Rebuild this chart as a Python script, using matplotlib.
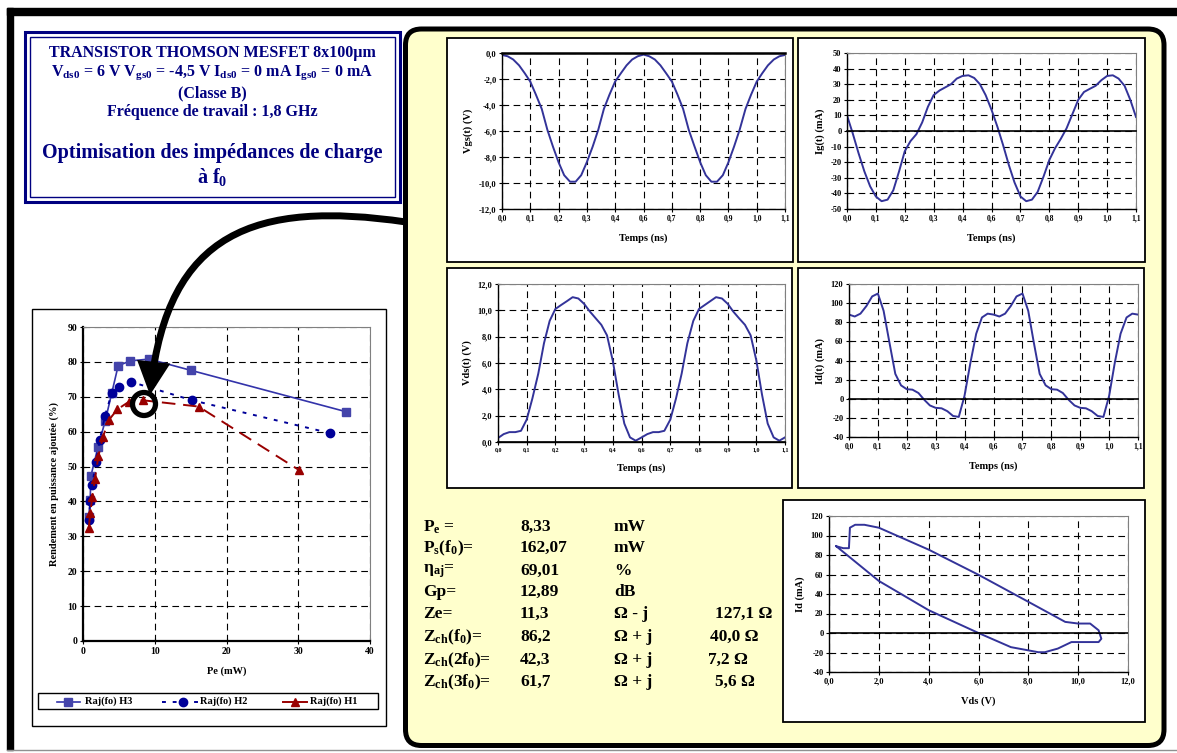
import numpy as np
import matplotlib.pyplot as plt
from matplotlib.patches import Rectangle, FancyBboxPatch, Circle, FancyArrowPatch
from matplotlib.path import Path

W, H = 1177, 753

plt.rcParams['font.family'] = ['Liberation Serif', 'DejaVu Serif']
plt.rcParams['font.weight'] = 'bold'
plt.rcParams['axes.labelweight'] = 'bold'
plt.rcParams['mathtext.fontset'] = 'custom'
plt.rcParams['mathtext.rm'] = 'Liberation Serif:bold'
plt.rcParams['mathtext.it'] = 'Liberation Serif:bold'
plt.rcParams['mathtext.bf'] = 'Liberation Serif:bold'

NAVY = '#000080'
WAVE = '#333399'

# --- rendement en puissance ajoutee vs Pe ---
pe_h3 = [0.8, 1.0, 1.1, 2.1, 3.1, 4.0, 4.9, 6.6, 9.2, 15.0, 36.7]
raj_h3 = [35.5, 40.5, 47.3, 55.7, 63.1, 71.0, 78.9, 80.3, 80.8, 77.6, 65.7]
pe_h2 = [0.84, 1.02, 1.30, 1.77, 2.33, 3.07, 4.0, 5.02, 6.65, 15.2, 34.4]
raj_h2 = [34.7, 40.1, 44.6, 51.2, 57.5, 64.6, 71.0, 72.7, 74.3, 69.0, 59.6]
pe_h1 = [0.79, 1.02, 1.30, 1.67, 2.14, 2.79, 3.63, 4.79, 6.42, 8.33, 16.1, 30.1]
raj_h1 = [32.3, 36.6, 41.4, 46.5, 52.9, 58.6, 63.4, 66.4, 68.6, 69.0, 67.2, 49.0]
series_names = ['Raj(fo) H3', 'Raj(fo) H2', 'Raj(fo) H1']
pe_labels = ['0', '10', '20', '30', '40']
raj_labels = ['0', '10', '20', '30', '40', '50', '60', '70', '80', '90']

# --- formes d'onde temporelles (ns) ---
t_ns = [0.000, 0.022, 0.044, 0.067, 0.089, 0.111, 0.133, 0.156, 0.178, 0.200,
        0.222, 0.244, 0.267, 0.289, 0.311, 0.333, 0.356, 0.378, 0.400, 0.422,
        0.444, 0.467, 0.489, 0.511, 0.533, 0.556, 0.578, 0.600, 0.622, 0.644,
        0.667, 0.689, 0.711, 0.733, 0.756, 0.778, 0.800, 0.822, 0.844, 0.867,
        0.889, 0.911, 0.933, 0.956, 0.978, 1.000, 1.022, 1.044, 1.067, 1.089,
        1.111]
vgs = [-0.15, -0.25, -0.5, -0.95, -1.55, -2.2, -3.2, -4.3, -5.9, -7.2,
       -8.4, -9.4, -9.9, -9.9, -9.4, -8.4, -7.2, -5.9, -4.3, -3.2,
       -2.2, -1.55, -0.95, -0.5, -0.25, -0.12, -0.25, -0.5, -0.95, -1.55,
       -2.2, -3.2, -4.3, -5.9, -7.2, -8.4, -9.4, -9.9, -9.9, -9.4,
       -8.4, -7.2, -5.9, -4.3, -3.2, -2.2, -1.55, -0.95, -0.5, -0.25,
       -0.15]
ig = [10, -1.5, -14, -26, -35.5, -42, -45, -44, -38, -26,
      -13, -6.5, -2, 5.5, 15.5, 23, 26, 28, 30, 33.6,
      35.3, 35.7, 34, 30, 23, 13.4, 2.8, -9, -21.7, -33,
      -42, -45, -44, -39, -29, -18.5, -11, -5, 1.7, 11,
      20, 25, 27, 29, 32.6, 35.3, 35.7, 33.6, 29, 20,
      9]
vds = [0.3, 0.6, 0.75, 0.75, 0.85, 1.7, 3.3, 5.2, 7.5, 9.2,
       10.1, 10.4, 10.7, 11.0, 10.9, 10.5, 9.9, 9.4, 8.9, 8.1,
       6.2, 3.6, 1.4, 0.35, 0.1, 0.35, 0.6, 0.75, 0.75, 0.85,
       1.7, 3.3, 5.2, 7.5, 9.2, 10.1, 10.4, 10.7, 11.0, 10.9,
       10.5, 9.9, 9.4, 8.9, 8.1, 6.2, 3.6, 1.4, 0.35, 0.1,
       0.35]
id_t = [88, 86, 89, 97, 107, 110, 92, 58, 26, 14,
        10, 9.5, 6, -1, -7, -9.5, -10, -13, -18, -19,
        3, 38, 68, 85, 89, 88, 86, 89, 97, 107,
        110, 92, 58, 26, 14, 10, 9.5, 6, -1, -7,
        -9.5, -10, -13, -18, -19, 3, 38, 68, 85, 89,
        88]
t_labels = ['0,0', '0,1', '0,2', '0,3', '0,4', '0,6', '0,7', '0,8', '0,9', '1,0', '1,1']
vgs_labels = ['-12,0', '-10,0', '-8,0', '-6,0', '-4,0', '-2,0', '0,0']
ig_labels = ['-50', '-40', '-30', '-20', '-10', '0', '10', '20', '30', '40', '50']
vds_labels = ['0,0', '2,0', '4,0', '6,0', '8,0', '10,0', '12,0']
id_labels = ['-40', '-20', '0', '20', '40', '60', '80', '100', '120']

# --- cycle de charge Id(Vds) ---
vds_loop = [0.29, 0.57, 0.8, 0.84, 1.05, 1.42, 2.0, 4.0, 6.0, 8.0, 9.48, 10.0, 10.48,
            10.82, 10.93, 10.82, 10.27, 9.73, 9.18, 8.66, 8.4, 7.3, 6.0, 4.0, 2.0, 0.29]
id_loop = [89, 87, 87, 108, 111, 111, 108, 85.5, 59.7, 32, 11.4, 9.7, 9.7,
           2.8, -5.9, -9.3, -9.3, -9.3, -16, -19.7, -19.7, -14.5, 0, 23.4, 53.4, 89]

# --- tableau des performances ---
param_labels = [r'P$_{\rm e}$ =', r'P$_{\rm s}$(f$_{\rm 0}$)=', r'η$_{\rm aj}$=', 'Gp=', 'Ze=',
                r'Z$_{\rm ch}$(f$_{\rm 0}$)=', r'Z$_{\rm ch}$(2f$_{\rm 0}$)=', r'Z$_{\rm ch}$(3f$_{\rm 0}$)=']
param_values = ['8,33', '162,07', '69,01', '12,89', '11,3', '86,2', '42,3', '61,7']
param_units = ['mW', 'mW', '%', 'dB', 'Ω - j', 'Ω + j', 'Ω + j', 'Ω + j']
param_imag = ['', '', '', '', '127,1 Ω', '40,0 Ω', '7,2 Ω', '5,6 Ω']

title_lines = ['TRANSISTOR THOMSON MESFET 8x100µm',
               r'V$_{\rm ds0}$ = 6 V V$_{\rm gs0}$ = -4,5 V I$_{\rm ds0}$ = 0 mA I$_{\rm gs0}$ = 0 mA',
               '(Classe B)',
               'Fréquence de travail : 1,8 GHz']
subtitle_lines = ['Optimisation des impédances de charge', r'à f$_{\rm 0}$']

fig = plt.figure(figsize=(W / 100, H / 100), dpi=100)


def px_axes(x0, y0, x1, y1, **kw):
    return fig.add_axes([x0 / W, 1 - y1 / H, (x1 - x0) / W, (y1 - y0) / H], **kw)


def pixel_layer(z):
    a = px_axes(0, 0, W, H, zorder=z)
    a.set_xlim(0, W)
    a.set_ylim(H, 0)
    a.axis('off')
    a.patch.set_alpha(0)
    return a


bg = pixel_layer(0)

# cadre de la page
bg.add_patch(Rectangle((7, 8), W - 7, 7, color='black'))
bg.add_patch(Rectangle((7, 8), 6, 742, color='black'))
bg.plot([7, W], [750, 750], color='#909090', lw=1)

# cartouche titre
bg.add_patch(Rectangle((25, 32), 375, 170, fc='white', ec=NAVY, lw=2.2))
bg.add_patch(Rectangle((30, 37), 365, 160, fill=False, ec=NAVY, lw=1.0))
for y, s in zip([53, 73, 93, 112], title_lines):
    bg.text(212, y, s, ha='center', va='center', fontsize=11.5, color=NAVY)
for y, s in zip([153, 177], subtitle_lines):
    bg.text(212, y, s, ha='center', va='center', fontsize=14.5, color=NAVY)

# boite jaune
bg.add_patch(FancyBboxPatch((405.5, 29), 758.5, 716.5, boxstyle='round,pad=0,rounding_size=16',
                            fc='#FFFFCC', ec='black', lw=3.6))

# panneaux blancs
for (x0, y0, x1, y1) in [(447, 38, 793, 262), (798, 38, 1145, 262),
                         (447, 268, 792, 488), (798, 268, 1144, 488),
                         (783, 500, 1145, 722)]:
    bg.add_patch(Rectangle((x0, y0), x1 - x0, y1 - y0, fc='white', ec='black', lw=1.3))
bg.add_patch(Rectangle((32, 309), 354, 417, fc='white', ec='black', lw=1.0))

# tableau
row_y = [527, 548, 571, 592, 614, 637, 660, 682]
imag_x = [715, 710, 708, 715]
for i, y in enumerate(row_y):
    bg.text(423, y, param_labels[i], ha='left', va='center', fontsize=12.5, color='black')
    bg.text(520, y, param_values[i], ha='left', va='center', fontsize=12.5, color='black')
    bg.text(614, y, param_units[i], ha='left', va='center', fontsize=12.5, color='black')
    if param_imag[i]:
        bg.text(imag_x[i - 4], y, param_imag[i], ha='left', va='center', fontsize=12.5, color='black')

# legende du graphe de rendement
bg.add_patch(Rectangle((38, 693), 340, 16, fill=False, ec='black', lw=1.0))
ly = 701.5
bg.plot([57, 80], [ly, ly], color='#3333AA', lw=1.2)
bg.plot([68], [ly], marker='s', ms=6, color='#4444AA')
bg.plot([162, 205], [ly, ly], color='#000099', lw=1.4, ls=(0, (2, 3.5)))
bg.plot([183], [ly], marker='o', ms=6, color='#000099')
bg.plot([283, 307], [ly, ly], color='#990000', lw=1.4)
bg.plot([295], [ly], marker='^', ms=5.5, color='#990000')
for x, s in zip([85, 200, 310], series_names):
    bg.text(x, ly, s, ha='left', va='center', fontsize=7.5, fontweight='bold')


def excel_style(ax):
    ax.set_facecolor('white')
    for side in ['left', 'bottom']:
        ax.spines[side].set_color('black')
        ax.spines[side].set_linewidth(1.0)
    for side in ['top', 'right']:
        ax.spines[side].set_color('#808080')
        ax.spines[side].set_linewidth(0.8)
    ax.grid(True, color='black', lw=0.8, ls=(0, (6, 4)))
    ax.set_axisbelow(True)
    ax.tick_params(direction='inout', length=4, width=0.8, pad=2, colors='black')
    for lab in ax.get_xticklabels() + ax.get_yticklabels():
        lab.set_fontweight('bold')


def wave_panel(box, y, ylim, ystep, ylabels, ylabel, xfs=5.5):
    ax = px_axes(*box, zorder=2)
    ax.plot(t_ns, y, color=WAVE, lw=1.4, solid_joinstyle='round')
    ax.set_xlim(0, t_ns[-1])
    ax.set_ylim(*ylim)
    ax.set_xticks(np.linspace(0, t_ns[-1], len(t_labels)))
    ax.set_xticklabels(t_labels, fontsize=xfs)
    ax.set_yticks(np.arange(ylim[0], ylim[1] + ystep / 2, ystep))
    ax.set_yticklabels(ylabels, fontsize=6)
    ax.set_xlabel('Temps (ns)', fontsize=7.5, labelpad=8)
    ax.set_ylabel(ylabel, fontsize=7.5, labelpad=4)
    excel_style(ax)
    ax.axhline(0, color='black', lw=1.8 if ylim[1] == 0 else 1.2, clip_on=False, zorder=3)
    return ax


wave_panel((502, 53, 785, 209), vgs, (-12, 0), 2, vgs_labels, 'Vgs(t) (V)')
wave_panel((847, 53, 1136, 209), ig, (-50, 50), 10, ig_labels, 'Ig(t) (mA)')
wave_panel((498, 284, 785, 442), vds, (0, 12), 2, vds_labels, 'Vds(t) (V)', xfs=4.3)
wave_panel((849, 284, 1138, 437), id_t, (-40, 120), 20, id_labels, 'Id(t) (mA)')

# cycle de charge
axl = px_axes(829, 516, 1128, 672, zorder=2)
axl.plot(vds_loop, id_loop, color=WAVE, lw=1.4, solid_joinstyle='round')
axl.set_xlim(0, 12)
axl.set_ylim(-40, 120)
axl.set_xticks(np.arange(0, 12.1, 2))
axl.set_xticklabels(vds_labels, fontsize=6)
axl.set_yticks(np.arange(-40, 121, 20))
axl.set_yticklabels(id_labels, fontsize=6)
axl.set_xlabel('Vds (V)', fontsize=7.5, labelpad=8)
axl.set_ylabel('Id (mA)', fontsize=7.5, labelpad=4)
excel_style(axl)
axl.axhline(0, color='black', lw=1.2, zorder=3)

# rendement en puissance ajoutee
axr = px_axes(83, 327, 370, 641, zorder=2)
axr.plot(pe_h3, raj_h3, color='#3333AA', lw=1.2, marker='s', ms=6, mfc='#4444AA', mec='#4444AA')
axr.plot(pe_h2, raj_h2, color='#000099', lw=1.4, ls=(0, (2, 3.5)), marker='o', ms=6)
axr.plot(pe_h1, raj_h1, color='#990000', lw=1.4, ls=(0, (7, 4)), marker='^', ms=5.5)
axr.set_xlim(0, 40)
axr.set_ylim(0, 90)
axr.set_xticks(np.arange(0, 41, 10))
axr.set_xticklabels(pe_labels, fontsize=7)
axr.set_yticks(np.arange(0, 91, 10))
axr.set_yticklabels(raj_labels, fontsize=7)
axr.set_xlabel('Pe (mW)', fontsize=7.5, labelpad=8)
axr.set_ylabel('Rendement en puissance ajoutée (%)', fontsize=7.5, labelpad=6)
excel_style(axr)
for side in ['left', 'bottom']:
    axr.spines[side].set_linewidth(1.6)

# fleche et cercle
ov = pixel_layer(10)
arrow_path = Path([(406, 222), (255, 200), (168, 232), (150, 395)],
                  [Path.MOVETO, Path.CURVE4, Path.CURVE4, Path.CURVE4])
ov.add_patch(FancyArrowPatch(path=arrow_path, arrowstyle='-|>,head_length=16,head_width=8',
                             lw=5, color='black', joinstyle='miter', capstyle='butt'))
ov.add_patch(Circle((144, 404), 11.5, fill=False, ec='black', lw=3.8))

fig.savefig('out.png', dpi=100)
